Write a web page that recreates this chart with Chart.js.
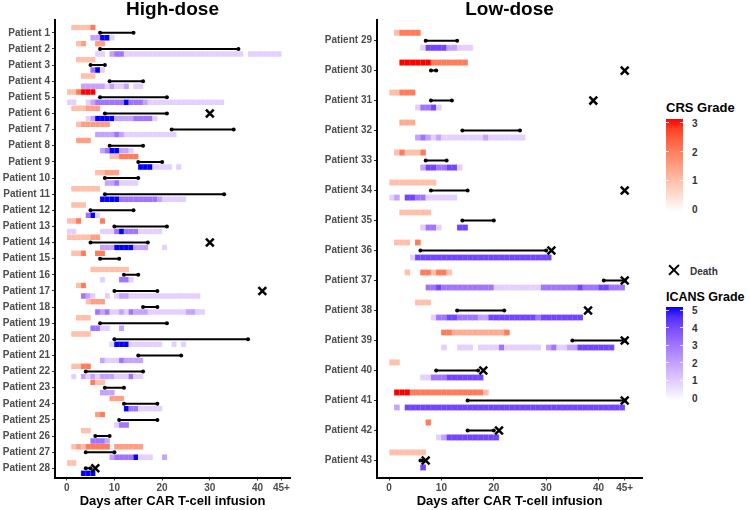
<!doctype html>
<html>

<head>
    <title>CRS / ICANS timeline</title>
    <script src="https://cdn.jsdelivr.net/npm/chart.js"></script>
</head>

<style>
    body {
        margin: 0;
        background: #fff;
        overflow: hidden;
        font-family: 'Liberation Sans', Arial, sans-serif;
    }

    #wrap {
        position: relative;
        width: 750px;
        height: 510px;
    }

    .panel {
        position: absolute;
        top: 0;
        height: 510px;
    }

    .lg {
        position: absolute;
        font-weight: bold;
        white-space: nowrap;
    }

    .lgTitle {
        font-size: 13px;
        color: #000;
    }

    .lgLab {
        font-size: 10px;
        color: #333;
        transform: translateY(-50%);
    }

    .bar {
        position: absolute;
        left: 666px;
        width: 17px;
    }

    .tk {
        position: absolute;
        height: 1px;
        width: 3px;
        background: #fff;
    }
</style>

<body>
    <div id="wrap">
        <div class="panel" style="left:0;width:300px;"><canvas id="high"></canvas></div>
        <div class="panel" style="left:300px;width:350px;"><canvas id="low"></canvas></div>

        <div class="lg lgTitle" style="left:666px;top:100px;">CRS Grade</div>
        <div class="bar" id="crsBar" style="top:119px;height:93px;"></div>

        <div class="lg" style="left:668px;top:264px;width:12px;height:12px;">
            <div style="position:absolute;left:5px;top:-1px;width:2.4px;height:14px;background:#000;transform:rotate(45deg);"></div>
            <div style="position:absolute;left:5px;top:-1px;width:2.4px;height:14px;background:#000;transform:rotate(-45deg);"></div>
        </div>
        <div class="lg lgLab" style="left:690px;top:271px;">Death</div>

        <div class="lg lgTitle" style="left:666px;top:290px;font-size:12.5px;">ICANS Grade</div>
        <div class="bar" id="icansBar" style="top:307px;height:94px;"></div>
    </div>

    <script>
        // days on the x axis
        var xTicks = [0, 10, 20, 30, 40, 45];
        var xTickLabels = ['0', '10', '20', '30', '40', '45+'];

        var highPatients = [1, 2, 3, 4, 5, 6, 7, 8, 9, 10, 11, 12, 13, 14, 15, 16, 17, 18, 19, 20, 21, 22, 23, 24, 25, 26, 27, 28];
        var lowPatients = [29, 30, 31, 32, 33, 34, 35, 36, 37, 38, 39, 40, 41, 42, 43];

        // [patient, first day, last day, grade]
        var highCrs = [
            [1, 1, 5, 1], [1, 5, 6, 2],
            [2, 2, 3, 1], [2, 3, 4, 1.5], [2, 6, 8, 1.5],
            [3, 2, 6, 1],
            [4, 3, 6, 1],
            [5, 0, 2, 1], [5, 2, 3, 2], [5, 3, 6, 3],
            [6, 1, 4, 1], [6, 4, 7, 1.5],
            [7, 2, 3, 1], [7, 3, 9, 1.5],
            [8, 2, 5, 1.5],
            [9, 9, 11, 1], [9, 11, 15, 2],
            [10, 6, 8, 1], [10, 8, 11, 1.5],
            [11, 1, 7, 1],
            [12, 1, 4, 1],
            [13, 0, 2, 1], [13, 2, 3, 2], [13, 7, 8, 2],
            [14, 0, 5, 1], [14, 5, 7, 1.5],
            [15, 1, 3, 1], [15, 3, 4, 2], [15, 6, 8, 2],
            [16, 5, 13, 1],
            [17, 2, 3, 1], [17, 3, 4, 2],
            [18, 4, 5, 1], [18, 5, 8, 1.5],
            [19, 2, 5, 1],
            [20, 1, 5, 1],
            [22, 1, 3, 1], [22, 3, 5, 2],
            [23, 5, 6, 2], [23, 6, 8, 1],
            [24, 9, 12, 1.5],
            [25, 6, 7, 1.5], [25, 7, 8, 2],
            [26, 3, 5, 1],
            [27, 1, 2, 1], [27, 2, 3, 1.5], [27, 3, 4, 1], [27, 4, 9, 2], [27, 10, 16, 1.5],
            [28, 0, 2, 1]
        ];

        var highIcans = [
            [1, 5, 7, 2], [1, 7, 9, 5], [1, 9, 10, 1],
            [2, 6, 8, 1], [2, 9, 10, 2], [2, 10, 12, 3], [2, 12, 37, 1], [2, 38, 45, 1],
            [3, 5, 6, 3], [3, 6, 7, 5], [3, 7, 8, 1],
            [4, 3, 8, 2], [4, 8, 9, 1], [4, 9, 10, 2], [4, 10, 12, 1], [4, 12, 13, 2], [4, 14, 16, 1],
            [5, 0, 2, 1], [5, 4, 5, 1], [5, 5, 6, 2], [5, 6, 12, 3], [5, 12, 13, 5], [5, 13, 16, 3], [5, 16, 17, 2], [5, 17, 33, 1],
            [6, 4, 5, 1], [6, 5, 6, 2], [6, 6, 10, 5], [6, 10, 14, 2], [6, 14, 18, 3], [6, 18, 19, 1],
            [7, 6, 10, 2], [7, 10, 11, 3], [7, 11, 12, 2], [7, 12, 23, 1],
            [8, 7, 8, 2], [8, 8, 9, 3], [8, 9, 11, 5], [8, 11, 13, 2], [8, 13, 14, 1],
            [9, 15, 18, 5], [9, 18, 22, 1], [9, 23, 24, 1],
            [10, 8, 10, 2], [10, 10, 11, 3], [10, 11, 15, 1],
            [11, 7, 11, 5], [11, 11, 19, 3], [11, 19, 20, 2], [11, 20, 25, 1],
            [12, 4, 5, 3], [12, 5, 6, 5], [12, 6, 7, 1],
            [13, 0, 2, 1], [13, 7, 10, 1], [13, 10, 11, 3], [13, 11, 12, 5], [13, 12, 15, 3], [13, 15, 20, 1],
            [14, 7, 10, 2], [14, 10, 14, 5], [14, 14, 17, 2], [14, 20, 21, 1],
            [16, 7, 8, 1], [16, 11, 13, 3], [16, 13, 14, 1],
            [17, 3, 4, 3], [17, 4, 5, 2], [17, 5, 6, 1], [17, 8, 9, 1], [17, 10, 11, 1], [17, 11, 13, 2], [17, 13, 28, 1],
            [18, 6, 7, 3], [18, 7, 8, 2], [18, 8, 9, 3], [18, 9, 11, 1], [18, 11, 12, 2], [18, 12, 13, 1], [18, 13, 14, 3],
            [18, 14, 17, 2], [18, 17, 25, 1], [18, 25, 27, 2], [18, 27, 29, 1],
            [19, 5, 7, 3], [19, 7, 9, 1], [19, 11, 12, 2],
            [20, 9, 10, 1], [20, 10, 13, 5], [20, 13, 20, 1], [20, 22, 23, 1], [20, 24, 25, 1],
            [21, 7, 8, 2], [21, 8, 11, 1], [21, 11, 12, 3], [21, 12, 16, 2],
            [22, 1, 2, 1], [22, 3, 4, 2], [22, 4, 5, 1], [22, 5, 6, 2], [22, 6, 7, 1], [22, 7, 10, 2], [22, 10, 13, 1],
            [22, 13, 14, 3], [22, 14, 16, 1],
            [23, 7, 10, 2],
            [24, 12, 13, 5], [24, 13, 15, 3], [24, 15, 20, 1],
            [25, 10, 11, 1], [25, 11, 13, 3],
            [26, 5, 8, 3], [26, 8, 9, 2],
            [27, 9, 10, 2], [27, 10, 14, 3], [27, 14, 15, 5], [27, 15, 18, 1], [27, 20, 21, 2],
            [28, 3, 6, 5]
        ];

        // [patient, start, end] of the black interval
        var highSpans = [
            [1, 7, 14], [2, 7, 36], [3, 5, 8], [4, 9, 16], [5, 7, 21], [6, 8, 21], [7, 22, 35],
            [8, 9, 16], [9, 15, 20], [10, 8, 15], [11, 8, 33], [12, 5, 14], [13, 10, 21], [14, 5, 17],
            [15, 7, 11], [16, 12, 15], [17, 10, 19], [18, 16, 19], [19, 7, 21], [20, 10, 38], [21, 15, 24],
            [22, 4, 16], [23, 8, 12], [24, 12, 19], [25, 11, 19], [26, 6, 9], [27, 4, 10], [28, 4, 5]
        ];
        var highDeaths = [[6, 30], [14, 30], [17, 41], [28, 6]];

        var lowCrs = [
            [29, 1, 2, 1], [29, 2, 6, 2],
            [30, 2, 8, 3], [30, 8, 15, 2],
            [31, 0, 2, 1], [31, 2, 5, 2],
            [32, 2, 5, 1.3],
            [33, 1, 2, 1], [33, 2, 3, 2], [33, 3, 6, 1], [33, 6, 7, 2],
            [34, 0, 9, 1],
            [35, 2, 8, 1],
            [36, 1, 4, 1], [36, 5, 6, 2],
            [37, 3, 4, 1], [37, 6, 8, 2], [37, 8, 9, 1], [37, 9, 11, 2], [37, 11, 12, 1],
            [38, 5, 8, 1],
            [39, 10, 12, 2], [39, 12, 22, 1.3], [39, 22, 23, 2],
            [40, 0, 2, 1],
            [41, 1, 4, 3], [41, 4, 18, 2], [41, 18, 19, 1],
            [42, 7, 8, 2],
            [43, 0, 7, 1]
        ];

        var lowIcans = [
            [29, 6, 7, 1], [29, 7, 11, 4], [29, 11, 13, 2], [29, 13, 16, 1],
            [31, 5, 6, 1], [31, 6, 8, 3], [31, 8, 9, 4], [31, 9, 10, 1],
            [32, 5, 6, 2], [32, 6, 7, 3], [32, 7, 8, 2], [32, 8, 9, 1], [32, 9, 10, 2], [32, 10, 18, 1], [32, 18, 19, 2], [32, 19, 26, 1],
            [33, 6, 7, 2], [33, 7, 9, 4], [33, 9, 11, 3], [33, 11, 13, 4], [33, 13, 14, 1],
            [34, 0, 1, 1], [34, 1, 2, 2], [34, 3, 5, 4], [34, 5, 7, 3], [34, 7, 13, 1],
            [35, 6, 7, 1], [35, 7, 9, 3], [35, 9, 10, 1], [35, 13, 15, 4],
            [36, 4, 5, 1], [36, 5, 31, 4],
            [37, 7, 9, 3], [37, 9, 10, 4], [37, 10, 20, 3], [37, 20, 29, 1], [37, 29, 36, 3], [37, 36, 37, 4],
            [37, 37, 40, 3], [37, 40, 42, 4], [37, 42, 45, 3],
            [38, 8, 9, 1], [38, 9, 11, 3], [38, 11, 13, 4], [38, 13, 17, 3], [38, 17, 19, 2], [38, 19, 28, 4],
            [38, 28, 29, 3], [38, 29, 37, 4],
            [39, 10, 11, 1], [39, 13, 16, 1], [39, 17, 21, 1], [39, 21, 22, 3], [39, 22, 29, 1], [39, 30, 31, 2],
            [39, 31, 32, 3], [39, 32, 34, 1], [39, 34, 36, 2], [39, 36, 43, 4],
            [40, 6, 8, 1], [40, 8, 11, 3], [40, 11, 18, 4],
            [41, 1, 2, 2], [41, 3, 45, 4],
            [42, 9, 10, 1], [42, 10, 11, 2], [42, 11, 21, 4],
            [43, 6, 7, 4]
        ];

        var lowSpans = [
            [29, 7, 13], [30, 8, 9], [31, 8, 12], [32, 14, 25], [33, 7, 11], [34, 8, 15], [35, 14, 20],
            [36, 6, 30], [37, 41, 45], [38, 13, 22], [39, 35, 45], [40, 9, 17], [41, 15, 45], [42, 15, 20], [43, 6, 6.6]
        ];
        var lowDeaths = [[30, 45], [31, 39], [34, 45], [36, 31], [37, 45], [38, 38], [39, 45], [40, 18], [41, 45], [42, 21], [43, 7]];

        var FONT = "'Liberation Sans', Arial, sans-serif";
        var RED_LAB = [53.24, 80.09, 67.20];
        var BLUE_LAB = [32.30, 79.19, -107.86];

        // white -> colour, interpolated in Lab like ggplot's gradient
        function labToRgb(L, a, b) {
            var fy = (L + 16) / 116, fx = fy + a / 500, fz = fy - b / 200;
            var f = t => t > 6 / 29 ? t * t * t : 3 * (6 / 29) * (6 / 29) * (t - 4 / 29);
            var X = 0.95047 * f(fx), Y = f(fy), Z = 1.08883 * f(fz);
            var lin = [3.2406 * X - 1.5372 * Y - 0.4986 * Z, -0.9689 * X + 1.8758 * Y + 0.0415 * Z, 0.0557 * X - 0.2040 * Y + 1.0570 * Z];
            return lin.map(c => {
                c = Math.min(1, Math.max(0, c));
                var s = c <= 0.0031308 ? 12.92 * c : 1.055 * Math.pow(c, 1 / 2.4) - 0.055;
                return Math.round(s * 255);
            });
        }

        function gradeColor(grade, maxGrade, lab) {
            var t = Math.max(0, Math.min(1, grade / maxGrade));
            return 'rgb(' + labToRgb(100 + (lab[0] - 100) * t, lab[1] * t, lab[2] * t).join(',') + ')';
        }

        function makePanel(id, p) {
            var tiles = [], colors = [], borders = [];

            function addTiles(runs, offset, maxG, lab) {
                runs.forEach(([pt, s, e, g]) => {
                    for (var d = s; d < e; d++) {
                        tiles.push({ x: [d, Math.min(d + 1, e)], y: pt + offset });
                        colors.push(gradeColor(g, maxG, lab));
                        borders.push(gradeColor(g * 0.82, maxG, lab));
                    }
                });
            }
            addTiles(p.crs, p.crsOffset, 3, RED_LAB);
            addTiles(p.icans, p.icansOffset, 5, BLUE_LAB);

            var datasets = [{
                type: 'scatter',
                data: p.deaths.map(([pt, d]) => ({ x: d, y: pt })),
                pointStyle: 'crossRot',
                pointRadius: 5.5,
                borderColor: '#000',
                borderWidth: 2.5,
                order: 1
            }];

            p.spans.forEach(([pt, s, e]) => {
                datasets.push({
                    type: 'line',
                    data: [{ x: s, y: pt }, { x: e, y: pt }],
                    borderColor: '#000',
                    borderWidth: 2,
                    pointRadius: 2,
                    pointBackgroundColor: '#000',
                    pointBorderWidth: 0,
                    order: 2
                });
            });

            datasets.push({
                type: 'bar',
                data: tiles,
                backgroundColor: colors,
                borderColor: borders,
                borderWidth: { left: 0.5, right: 0.5, top: 0, bottom: 0 },
                borderSkipped: false,
                barThickness: p.thick,
                grouped: false,
                order: 3
            });

            return new Chart(document.getElementById(id), {
                type: 'bar',
                data: { datasets: datasets },
                options: {
                    indexAxis: 'y',
                    responsive: true,
                    maintainAspectRatio: false,
                    animation: false,
                    events: [],
                    layout: { padding: { top: 0, right: p.padRight, bottom: 0, left: 0 } },
                    plugins: {
                        legend: { display: false },
                        tooltip: { enabled: false },
                        title: {
                            display: true,
                            text: p.title,
                            fullSize: false,
                            color: '#000',
                            font: { family: FONT, size: 19, weight: 'bold', lineHeight: 1.05 },
                            padding: { top: 0, bottom: 0 }
                        }
                    },
                    scales: {
                        x: {
                            type: 'linear',
                            position: 'bottom',
                            min: p.xMin,
                            max: p.xMax,
                            offset: false,
                            afterBuildTicks: s => { s.ticks = xTicks.map(v => ({ value: v })); },
                            afterFit: s => { s.height = 32.5; },
                            ticks: {
                                autoSkip: false,
                                maxRotation: 0,
                                padding: 2,
                                color: '#4d4d4d',
                                font: { family: FONT, size: 10, weight: 'bold' },
                                callback: v => xTickLabels[xTicks.indexOf(v)]
                            },
                            grid: { drawOnChartArea: false, drawTicks: true, tickLength: 3, color: '#333', offset: false },
                            border: { display: true, color: '#000', width: 2 },
                            title: {
                                display: true,
                                text: 'Days after CAR T-cell infusion',
                                color: '#000',
                                font: { family: FONT, size: 13, weight: 'bold', lineHeight: 1.2 },
                                padding: { top: 0, bottom: 0.5 }
                            }
                        },
                        y: {
                            type: 'linear',
                            position: 'left',
                            reverse: true,
                            min: p.yMin,
                            max: p.yMax,
                            offset: false,
                            afterBuildTicks: s => { s.ticks = p.patients.map(v => ({ value: v })); },
                            afterFit: s => { s.width = p.yWidth; },
                            ticks: {
                                autoSkip: false,
                                padding: 2,
                                color: '#4d4d4d',
                                font: { family: FONT, size: 10, weight: 'bold' },
                                callback: v => 'Patient ' + v
                            },
                            grid: { drawOnChartArea: false, drawTicks: true, tickLength: 3, color: '#333', offset: false },
                            border: { display: true, color: '#000', width: 2 }
                        }
                    }
                }
            });
        }

        makePanel('high', {
            title: 'High-dose', patients: highPatients,
            crs: highCrs, icans: highIcans, spans: highSpans, deaths: highDeaths,
            crsOffset: -0.33, icansOffset: 0.31, thick: 5.5,
            xMin: -2.45, xMax: 46.8, yMin: 0.2, yMax: 28.57, yWidth: 55, padRight: 10
        });

        makePanel('low', {
            title: 'Low-dose', patients: lowPatients,
            crs: lowCrs, icans: lowIcans, spans: lowSpans, deaths: lowDeaths,
            crsOffset: -0.267, icansOffset: 0.234, thick: 6,
            xMin: -2.3, xMax: 48.3, yMin: 28.31, yMax: 43.57, yWidth: 77, padRight: 2
        });

        // colour bars of the legend
        function colorBar(elId, maxG, lab, labels, top0, pxPerGrade) {
            var el = document.getElementById(elId);
            var stops = [];
            for (var i = 0; i <= 10; i++) {
                stops.push(gradeColor(maxG * i / 10, maxG, lab) + ' ' + (i * 10) + '%');
            }
            el.style.background = 'linear-gradient(to top, ' + stops.join(', ') + ')';
            var wrap = document.getElementById('wrap');
            labels.forEach(g => {
                var y = top0 - g * pxPerGrade;
                var lab1 = document.createElement('div');
                lab1.className = 'lg lgLab';
                lab1.style.left = '692px';
                lab1.style.top = y + 'px';
                lab1.textContent = g;
                wrap.appendChild(lab1);
                [666, 680].forEach(x => {
                    var t = document.createElement('div');
                    t.className = 'tk';
                    t.style.left = x + 'px';
                    t.style.top = (y - 0.5) + 'px';
                    t.style.opacity = 0.8;
                    wrap.appendChild(t);
                });
            });
        }

        colorBar('crsBar', 3, RED_LAB, [0, 1, 2, 3], 209, 28.7);
        colorBar('icansBar', 5, BLUE_LAB, [0, 1, 2, 3, 4, 5], 398, 17.6);
    </script>
</body>

</html>
